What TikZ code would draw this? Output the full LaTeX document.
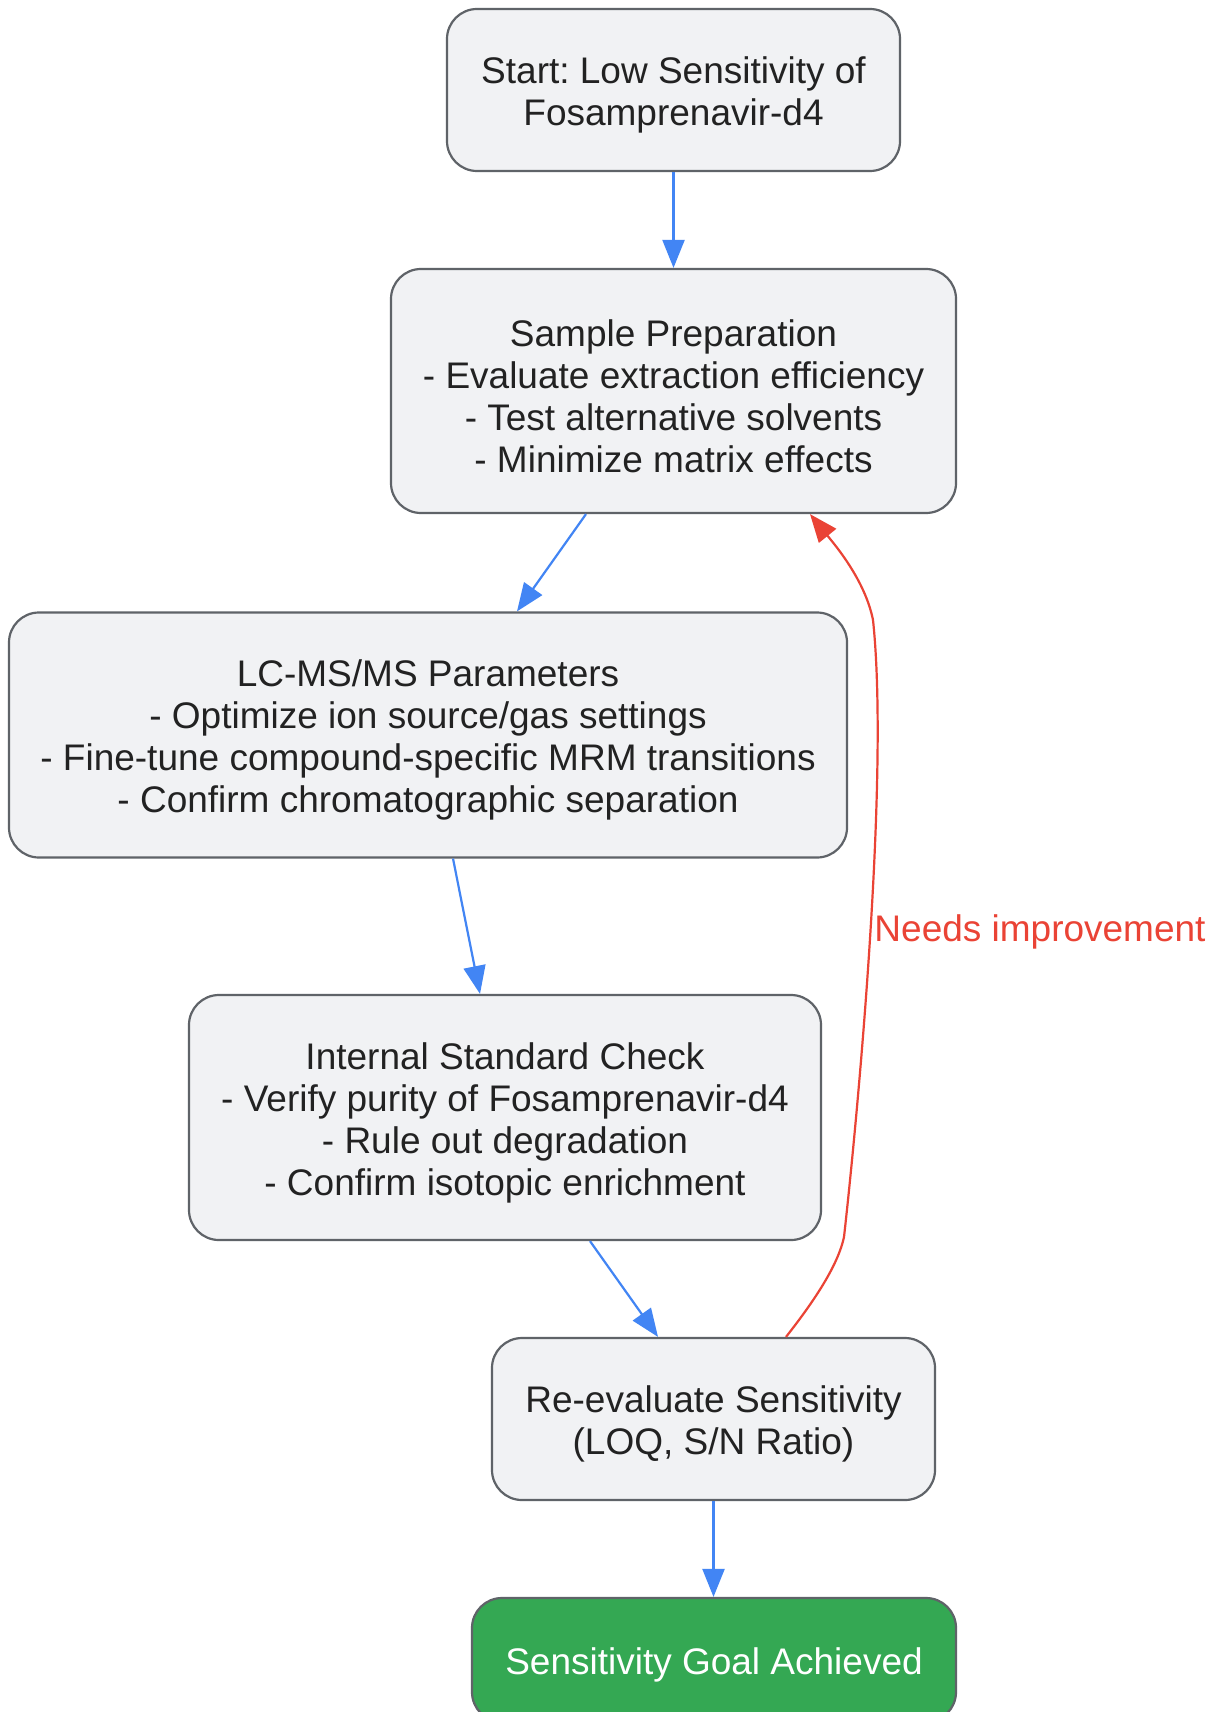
\documentclass[tikz,border=0pt]{standalone}
\usepackage{fontspec}
\setmainfont{Liberation Sans}
\frenchspacing
\usetikzlibrary{arrows.meta}
\definecolor{boxfill}{HTML}{F1F2F4}
\definecolor{boxdraw}{HTML}{5F6368}
\definecolor{txt}{HTML}{222222}
\definecolor{flowblue}{HTML}{4285F4}
\definecolor{flowred}{HTML}{EA4335}
\definecolor{goalgreen}{HTML}{34A853}
\tikzset{
  stepbox/.style={draw=boxdraw, fill=boxfill, line width=2.2pt, rounded corners=30pt,
    inner sep=0pt},
  goalbox/.style={stepbox, fill=goalgreen},
  boxtext/.style={align=center, inner sep=0pt, text=txt, yshift=-5pt,
    font=\fontsize{37}{42}\selectfont},
  goaltext/.style={boxtext, text=white},
  flow/.style={draw=flowblue, line width=2.2pt, -{Triangle[length=28pt,width=22pt]}},
  back/.style={draw=flowred, line width=2.2pt, -{Triangle[length=28pt,width=22pt]}},
}
\begin{document}
\begin{tikzpicture}[x=1pt,y=-1pt]
\clip (0,0) rectangle (1214,1712);
\fill[white] (0,0) rectangle (1214,1712);
\node[stepbox, minimum width=453pt, minimum height=162pt] (start) at (673.5,90) {};
\node[boxtext] (startT) at (start.center) {Start: Low Sensitivity of\\Fosamprenavir-d4};
\node[stepbox, minimum width=565pt, minimum height=244pt] (prep) at (673.5,391) {};
\node[boxtext] (prepT) at (prep.center)
  {Sample Preparation\\- Evaluate extraction efficiency\\- Test alternative solvents\\- Minimize matrix effects};
\node[stepbox, minimum width=838pt, minimum height=245pt] (lc) at (428,735) {};
\node[boxtext] (lcT) at (lc.center)
  {LC-MS/MS Parameters\\- Optimize ion source/gas settings\\- Fine-tune compound-specific MRM transitions\\- Confirm chromatographic separation};
\node[stepbox, minimum width=632pt, minimum height=245pt] (isc) at (505,1117.5) {};
\node[boxtext] (iscT) at (isc.center)
  {Internal Standard Check\\- Verify purity of Fosamprenavir-d4\\- Rule out degradation\\- Confirm isotopic enrichment};
\node[stepbox, minimum width=443pt, minimum height=162pt] (reeval) at (713.5,1419) {};
\node[boxtext] (reevalT) at (reeval.center) {Re-evaluate Sensitivity\\(LOQ, S/N Ratio)};
\node[goalbox, minimum width=484pt, minimum height=124pt] (goal) at (714,1660) {};
\node[goaltext] (goalT) at (goal.center) {Sensitivity Goal Achieved};

\draw[flow] (start.south) -- (prep.north);
\draw[flow] ([xshift=-87.5pt]prep.south) -- ([xshift=89pt]lc.north);
\draw[flow] ([xshift=25pt]lc.south) -- ([xshift=-25pt]isc.north);
\draw[flow] ([xshift=85pt]isc.south) -- ([xshift=-55.5pt]reeval.north);
\draw[flow] (reeval.south) -- (reeval.south |- goal.north);

\coordinate (r1) at (844,1237);
\coordinate (r2) at (873,620);
\draw[back] ([xshift=72.5pt]reeval.north) .. controls (815,1300) and (838,1265) .. (r1)
  .. controls (856,1130) and (890,780) .. (r2)
  .. controls (865,580) and (835,545) .. ([xshift=136.5pt]prep.south);
\node[text=flowred, font=\fontsize{37}{42}\selectfont, inner sep=0pt] (lbl) at (1040,932) {Needs improvement};
\end{tikzpicture}
\end{document}
